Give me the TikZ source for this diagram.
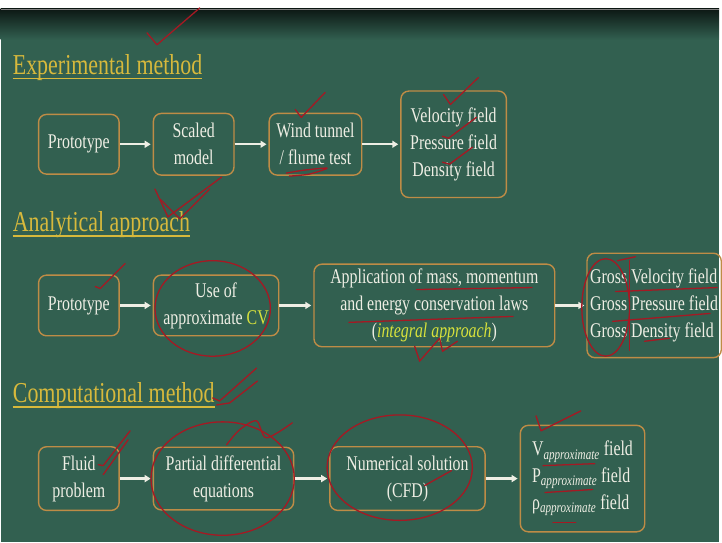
\documentclass[tikz,border=0pt]{standalone}
\usepackage{fontspec}
\setmainfont{Liberation Serif}[FakeStretch=0.76]
\usetikzlibrary{arrows.meta,positioning}
\definecolor{board}{RGB}{50,96,80}
\definecolor{frame}{RGB}{190,140,70}
\definecolor{chalk}{RGB}{238,238,228}
\definecolor{title}{RGB}{215,185,60}
\definecolor{hilite}{RGB}{215,225,60}
\definecolor{ink}{RGB}{165,25,35}

\begin{document}
\begin{tikzpicture}[x=1pt,y=-1pt,node distance=33pt,
 box/.style={draw=frame,line width=1.4pt,rounded corners=8pt,align=center,text=chalk,inner sep=1pt,font=\fontsize{21}{27}\selectfont},
 head/.style={text=title,inner sep=0pt,anchor=base west,font=\fontsize{29}{33}\selectfont},
 arr/.style={-{Triangle[length=6pt,width=7pt]},line width=2.2pt,chalk,shorten >=2pt},
 redpen/.style={ink,line width=1.3pt,line cap=round,line join=round}]
\fill[board] (0,0) rectangle (722,545);
\fill[white] (0,0) rectangle (722,9);
\shade[top color=black!75!board,bottom color=board] (0,9) rectangle (722,40);
\draw[gray,line width=1.5pt] (0,9.5) -- (722,9.5);

\node[head] (H1) at (12,75) {Experimental method};
\node[head] (H2) at (12,233) {Analytical approach};
\node[head] (H3) at (12,405) {Computational method};
\foreach \h in {H1,H2,H3}
  \draw[title,line width=1.5pt] ([yshift=-4pt]\h.base west) -- ([yshift=-4pt]\h.base east);

\node[box,minimum width=81pt,minimum height=60pt] (P1) at (78.5,145) {Prototype};
\node[box,minimum width=81pt,minimum height=62pt,right=33pt of P1] (S1) {Scaled\\model};
\node[box,minimum width=93pt,minimum height=62pt,right=34pt of S1] (W1) {Wind tunnel\\/ flume test};
\node[box,minimum width=106pt,minimum height=107pt,right=38pt of W1] (F1) {Velocity field\\Pressure field\\Density field};
\draw[arr] (P1)--(S1);\draw[arr] (S1)--(W1);\draw[arr] (W1)--(F1);

\node[box,minimum width=81pt,minimum height=61pt] (P2) at (78.5,307) {Prototype};
\node[box,minimum width=126pt,minimum height=61pt,right=33pt of P2] (U2) {Use of\\approximate \textcolor{hilite}{CV}};
\node[box,minimum width=242pt,minimum height=83pt,right=34pt of U2] (A2) {Application of mass, momentum\\and energy conservation laws\\(\textcolor{hilite}{\itshape integral approach})};
\node[box,minimum width=135pt,minimum height=105pt,right=31pt of A2,align=left] (G2) {Gross Velocity field\\Gross Pressure field\\Gross Density field};
\draw[arr] (P2)--(U2);\draw[arr] (U2)--(A2);\draw[arr] (A2)--(G2);

\node[box,minimum width=81pt,minimum height=64pt] (F3) at (78.5,481) {Fluid\\problem};
\node[box,minimum width=141pt,minimum height=63pt,right=33pt of F3] (D3) {Partial differential\\equations};
\node[box,minimum width=156pt,minimum height=64pt,right=35pt of D3] (N3) {Numerical solution\\(CFD)};
\node[box,minimum width=125pt,minimum height=107pt,right=34pt of N3,align=left] (R3) {V\textsubscript{\itshape approximate} field\\P\textsubscript{\itshape approximate} field\\ρ\textsubscript{\itshape approximate} field};
\draw[arr] (F3)--(D3);\draw[arr] (D3)--(N3);\draw[arr] (N3)--(R3);

\draw[redpen] (147,33) -- (157,45) -- (200,8);
\draw[redpen] (296,110) -- (302,118) -- (326,93);
\draw[redpen] plot[smooth] coordinates {(287,174) (305,171) (328,169) (310,175) (290,177)};
\draw[redpen] (445,95) -- (452,105) -- (480,78);
\draw[redpen] (444,137) -- (450,139) -- (478,118);
\draw[redpen] (444,163) -- (451,165) -- (474,148);
\draw[redpen] (155,190) -- (168,218) -- (222,178);
\draw[redpen] (160,200) -- (180,220) -- (210,190);
\draw[redpen] (95,288) -- (100,290) -- (125,265);
\draw[redpen] (213,310) ellipse [x radius=58pt,y radius=48pt];
\draw[redpen] (418,291) -- (534,289);
\draw[redpen] (350,324) -- (515,318);
\draw[redpen] (416,348) -- (421,363) -- (441,340) -- (444,353) -- (459,343);
\draw[redpen] (608,309) ellipse [x radius=24pt,y radius=49pt];
\draw[redpen] (618,293) -- (720,289);
\draw[redpen] (615,323) -- (713,315);
\draw[redpen] (647,343) -- (672,340);
\draw[redpen] (632,262) -- (632,352);
\draw[redpen] (620,262) -- (638,258);
\draw[redpen] (213,400) -- (220,403) -- (257,370);
\draw[redpen] (217,407) -- (230,405) -- (258,383);
\draw[redpen] (98,467) -- (103,468) -- (130,433);
\draw[redpen] (103,477) -- (128,442);
\draw[redpen] (223,481) ellipse [x radius=72pt,y radius=57pt];
\draw[redpen] plot[smooth] coordinates {(227,447) (240,432) (257,423) (267,440) (293,425)};
\draw[redpen] (401,470) ellipse [x radius=73pt,y radius=53pt];
\draw[redpen] (426,488) -- (453,473);
\draw[redpen] (538,418) -- (543,433) -- (583,413);
\draw[redpen] (545,468) -- (597,466);
\draw[redpen] (547,495) -- (595,492);
\draw[redpen] (555,525) -- (578,525);
\end{tikzpicture}
\end{document}
